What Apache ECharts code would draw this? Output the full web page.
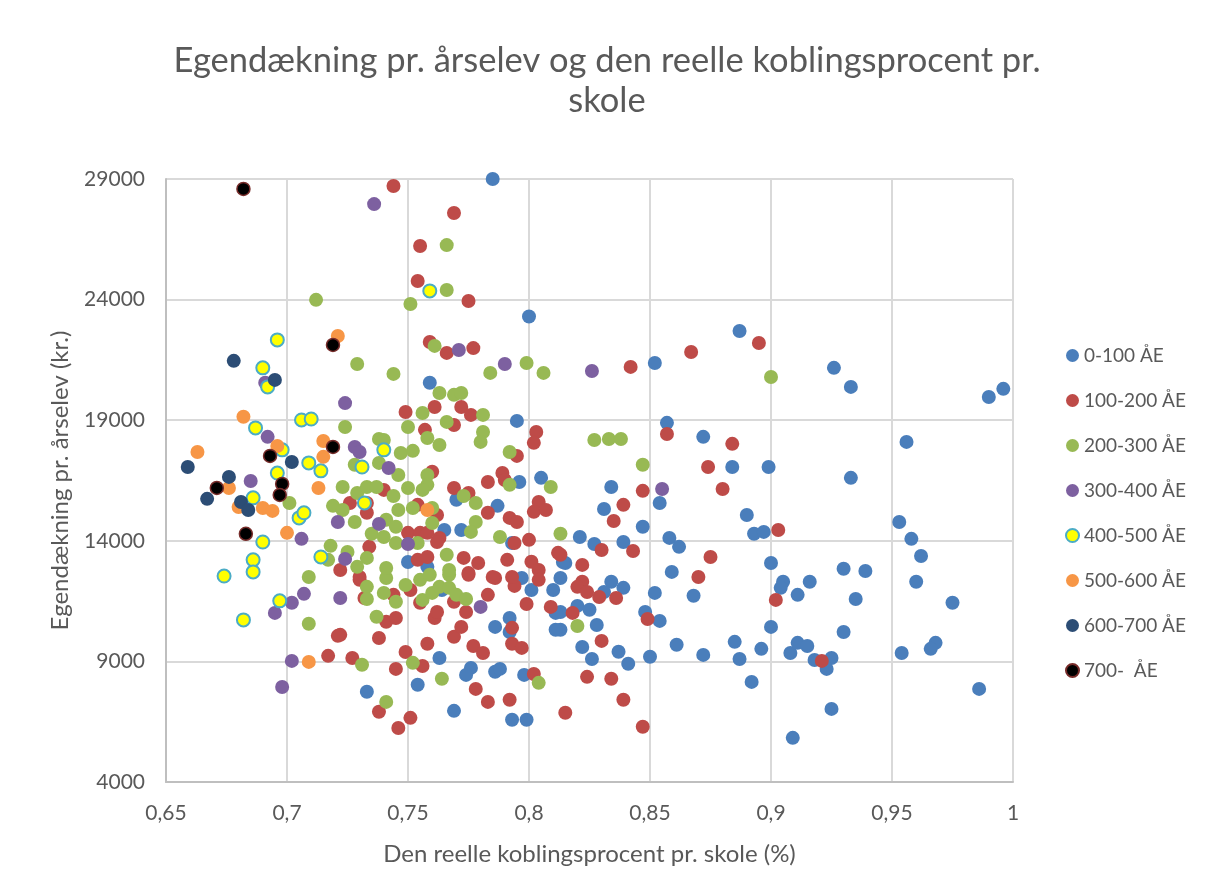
<!DOCTYPE html>
<html>
<head>
<meta charset="utf-8">
<title>Egendækning pr. årselev</title>
<script src="https://cdn.jsdelivr.net/npm/echarts@6/dist/echarts.min.js"></script>
<style>
    html, body { margin: 0; padding: 0; background: #fff; }
    #chart { width: 1214px; height: 892px; }
</style>
</head>
<body>
<div id="chart"></div>
<script>
'use strict';

// [koblingsprocent, egendækning kr.]
var serieNavne = ['0-100 ÅE', '100-200 ÅE', '200-300 ÅE', '300-400 ÅE', '400-500 ÅE', '500-600 ÅE', '600-700 ÅE', '700-  ÅE'];

var ae0_100 = [
    [0.785,29000],[0.800,23300],[0.887,22700],[0.852,21370],[0.926,21170],[0.933,20380],[0.996,20300],[0.990,19960],
    [0.759,20550],[0.795,18970],[0.857,18890],[0.872,18310],[0.956,18100],[0.884,17060],[0.899,17060],[0.933,16610],
    [0.834,16230],[0.831,15320],[0.854,15570],[0.890,15070],[0.893,14290],[0.897,14370],[0.847,14580],[0.821,14160],
    [0.827,13870],[0.839,13950],[0.858,14120],[0.862,13750],[0.815,13080],[0.859,12710],[0.900,13080],[0.905,12300],
    [0.813,12460],[0.834,12300],[0.839,12050],[0.831,11880],[0.820,11300],[0.825,11140],[0.813,11050],[0.828,10510],
    [0.813,10310],[0.822,9600],[0.826,9100],[0.837,9400],[0.841,8900],[0.850,9190],[0.848,11050],[0.854,10680],
    [0.852,11840],[0.868,11720],[0.861,9690],[0.872,9270],[0.885,9810],[0.887,9100],[0.896,9520],[0.900,10430],
    [0.892,8150],[0.904,12050],[0.908,9350],[0.909,5830],[0.916,12300],[0.911,11760],[0.935,11590],[0.930,10220],
    [0.960,12300],[0.975,11430],[0.911,9770],[0.915,9640],[0.918,9060],[0.925,9140],[0.923,8690],[0.954,9350],
    [0.968,9770],[0.966,9520],[0.986,7860],[0.925,7030],[0.930,12840],[0.939,12750],[0.953,14780],[0.958,14080],
    [0.962,13370],[0.763,9140],[0.754,8030],[0.733,7740],[0.769,6950],[0.776,8730],[0.774,8440],[0.786,8570],
    [0.788,8690],[0.798,8440],[0.793,6580],[0.799,6580],[0.786,10430],[0.792,10800],[0.792,10220],[0.801,11960],
    [0.810,11960],[0.811,11010],[0.811,10310],[0.797,12460],[0.764,11960],[0.796,16440],[0.805,16610],[0.787,15450],
    [0.770,15700],[0.765,14450],[0.772,14450],[0.793,13910],[0.750,13120],[0.758,12920],[0.814,13120]
];

var ae100_200 = [
    [0.744,28710],[0.769,27590],[0.755,26220],[0.754,24770],[0.775,23940],[0.759,22240],[0.766,21790],[0.777,21990],
    [0.842,21210],[0.867,21830],[0.895,22200],[0.857,18430],[0.884,18020],[0.874,17060],[0.880,16150],[0.847,16070],
    [0.839,15490],[0.835,14820],[0.830,13620],[0.843,13580],[0.903,14450],[0.875,13330],[0.870,12500],[0.822,13000],
    [0.813,13420],[0.822,12300],[0.820,12090],[0.824,11880],[0.829,11670],[0.836,11630],[0.818,11010],[0.830,9850],
    [0.849,10760],[0.902,11550],[0.824,8360],[0.834,8280],[0.839,7410],[0.815,6870],[0.847,6290],[0.921,9020],
    [0.744,11760],[0.738,9970],[0.722,10100],[0.727,9140],[0.745,8690],[0.738,6910],[0.746,6240],[0.751,6660],
    [0.749,9390],[0.758,9730],[0.756,8810],[0.761,10800],[0.762,11050],[0.769,10020],[0.772,10430],[0.774,11050],
    [0.777,9640],[0.781,9350],[0.778,7860],[0.783,7320],[0.792,7410],[0.802,8480],[0.793,10390],[0.793,9730],
    [0.797,9560],[0.799,11380],[0.794,12130],[0.809,11260],[0.783,11760],[0.786,12460],[0.775,12590],[0.741,10640],
    [0.745,10800],[0.751,11960],[0.755,11430],[0.769,11470],[0.730,12380],[0.732,11630],[0.721,10060],[0.717,9230],
    [0.726,15570],[0.749,19340],[0.761,19550],[0.772,19550],[0.776,19220],[0.757,18600],[0.769,18800],[0.760,16860],
    [0.803,18510],[0.802,18060],[0.795,17520],[0.783,16440],[0.789,16810],[0.790,16520],[0.769,16190],[0.775,15980],
    [0.804,15610],[0.802,15200],[0.807,15280],[0.783,15160],[0.792,14950],[0.795,14780],[0.762,15070],[0.754,15490],
    [0.750,14330],[0.755,14330],[0.763,14120],[0.762,13950],[0.758,14330],[0.794,13910],[0.800,14040],[0.740,16110],
    [0.733,15570],[0.733,15160],[0.734,13750],[0.754,13210],[0.758,13330],[0.773,13290],[0.779,13080],[0.775,12670],
    [0.791,13210],[0.801,13130],[0.804,12790],[0.812,13500],[0.785,12500],[0.793,12500],[0.804,12380],[0.722,12790],
    [0.730,12500]
];

var ae200_300 = [
    [0.712,23990],[0.766,26260],[0.766,24400],[0.751,23820],[0.761,22080],[0.729,21330],[0.744,20920],[0.784,20960],
    [0.799,21370],[0.806,20960],[0.900,20790],[0.827,18180],[0.833,18220],[0.838,18220],[0.847,17150],[0.813,14290],
    [0.820,10470],[0.733,12090],[0.733,11590],[0.737,10850],[0.740,11840],[0.745,11470],[0.749,12170],[0.755,12380],
    [0.756,11550],[0.760,11840],[0.763,12090],[0.767,12050],[0.770,11760],[0.774,11590],[0.731,8860],[0.752,8940],
    [0.764,8280],[0.741,7320],[0.804,8110],[0.767,12590],[0.759,12590],[0.741,12460],[0.709,12500],[0.709,10560],
    [0.724,18720],[0.723,16230],[0.719,15450],[0.701,15570],[0.718,13790],[0.717,13210],[0.763,20130],[0.769,20050],
    [0.772,20130],[0.756,19300],[0.750,18720],[0.766,18930],[0.781,19220],[0.781,18510],[0.780,18100],[0.758,18260],
    [0.763,17970],[0.738,18220],[0.740,18180],[0.747,17640],[0.752,17730],[0.728,17150],[0.738,17230],[0.746,16730],
    [0.758,16730],[0.758,16320],[0.756,16110],[0.792,17680],[0.792,16320],[0.809,16230],[0.729,15980],[0.733,16230],
    [0.737,16230],[0.750,16190],[0.744,15860],[0.773,15860],[0.778,15570],[0.746,15280],[0.752,15360],[0.760,15360],
    [0.760,14740],[0.723,15280],[0.728,14780],[0.741,14870],[0.745,14580],[0.778,14780],[0.776,14370],[0.788,14160],
    [0.735,14290],[0.740,14160],[0.745,13910],[0.754,13910],[0.725,13540],[0.733,13290],[0.729,12920],[0.741,12870],
    [0.766,13420],[0.767,12790]
];

var ae300_400 = [
    [0.736,27960],[0.771,21910],[0.790,21330],[0.826,21040],[0.855,16150],[0.780,11260],[0.722,11630],[0.695,11010],
    [0.702,11430],[0.707,11800],[0.702,9020],[0.698,7940],[0.692,18310],[0.685,16480],[0.691,20550],[0.724,19710],
    [0.721,14780],[0.706,14080],[0.724,13250],[0.728,17890],[0.730,17680],[0.742,17020],[0.738,14700],[0.750,13870]
];

var ae400_500 = [
    [0.696,22330],[0.690,21170],[0.692,20380],[0.687,18680],[0.706,19010],[0.710,19050],[0.698,17770],[0.696,16810],
    [0.709,17230],[0.714,16900],[0.686,15780],[0.705,14950],[0.707,15160],[0.690,13950],[0.686,13210],[0.686,12710],
    [0.674,12540],[0.714,13330],[0.697,11510],[0.682,10720],[0.759,24360],[0.740,17770],[0.731,17060],[0.732,15570]
];

var ae500_600 = [
    [0.721,22490],[0.682,19140],[0.663,17680],[0.696,17930],[0.676,16190],[0.680,15400],[0.690,15360],[0.694,15240],
    [0.713,16190],[0.700,14330],[0.715,18140],[0.715,17480],[0.709,8980],[0.758,15280]
];

var ae600_700 = [
    [0.678,21460],[0.695,20670],[0.659,17060],[0.676,16650],[0.667,15740],[0.681,15610],[0.684,15280],[0.702,17270]
];

var ae700 = [
    [0.682,28590],[0.719,22120],[0.693,17520],[0.671,16190],[0.698,16360],[0.697,15900],[0.683,14290],[0.719,17890]
];

var xTicks = { min: 0.65, max: 1, interval: 0.05 };
var yTicks = { min: 4000, max: 29000, interval: 5000 };

var tekstFarve = '#595959';
var font = 'Lato, "Open Sans", sans-serif';

var data = [ae0_100, ae100_200, ae200_300, ae300_400, ae400_500, ae500_600, ae600_700, ae700];
var stil = [
    { color: '#4A7EBB' },
    { color: '#BE4B48' },
    { color: '#98B954' },
    { color: '#7D60A0' },
    { color: '#FFFF00', borderColor: '#4BACC6', borderWidth: 2 },
    { color: '#F79646' },
    { color: '#2C4D75' },
    { color: '#000000', borderColor: '#772C2A', borderWidth: 1.5 }
];

var series = [];
for (var i = 0; i < data.length; i++) {
    stil[i].opacity = 1;
    series.push({
        name: serieNavne[i],
        type: 'scatter',
        symbol: 'circle',
        symbolSize: stil[i].borderWidth ? 13 : 14,
        data: data[i],
        itemStyle: stil[i],
        emphasis: { disabled: true }
    });
}

var chart = echarts.init(document.getElementById('chart'));
chart.setOption({
    animation: false,
    backgroundColor: '#fff',
    textStyle: { fontFamily: font },
    title: {
        text: 'Egendækning pr. årselev og den reelle koblingsprocent pr.\nskole',
        left: 'center',
        top: 36,
        textStyle: { fontFamily: font, fontSize: 34.5, fontWeight: 'normal', color: tekstFarve, lineHeight: 40 }
    },
    legend: {
        orient: 'vertical',
        left: 1060,
        top: 341,
        itemWidth: 13,
        itemHeight: 13,
        itemGap: 26,
        icon: 'circle',
        textStyle: { fontFamily: font, fontSize: 19, color: tekstFarve },
        data: serieNavne
    },
    grid: { left: 166, right: 201, top: 179, bottom: 110 },
    xAxis: {
        type: 'value',
        min: xTicks.min,
        max: xTicks.max,
        interval: xTicks.interval,
        name: 'Den reelle koblingsprocent pr. skole (%)',
        nameLocation: 'middle',
        nameGap: 60,
        nameTextStyle: { fontFamily: font, fontSize: 24, color: tekstFarve },
        axisLine: { show: true, lineStyle: { color: '#BFBFBF', width: 2 } },
        axisTick: { show: false },
        splitLine: { show: true, lineStyle: { color: '#D9D9D9', width: 2 } },
        axisLabel: {
            margin: 21,
            fontSize: 21,
            color: tekstFarve,
            formatter: function (v) { return String(+v.toFixed(2)).replace('.', ','); }
        }
    },
    yAxis: {
        type: 'value',
        min: yTicks.min,
        max: yTicks.max,
        interval: yTicks.interval,
        name: 'Egendækning pr. årselev (kr.)',
        nameLocation: 'middle',
        nameGap: 94,
        nameTextStyle: { fontFamily: font, fontSize: 24, color: tekstFarve },
        axisLine: { show: true, lineStyle: { color: '#BFBFBF', width: 2 } },
        axisTick: { show: false },
        splitLine: { show: true, lineStyle: { color: '#D9D9D9', width: 2 } },
        axisLabel: {
            margin: 21,
            fontSize: 21,
            color: tekstFarve,
            formatter: function (v) { return String(v); }
        }
    },
    series: series
});
</script>
</body>
</html>
